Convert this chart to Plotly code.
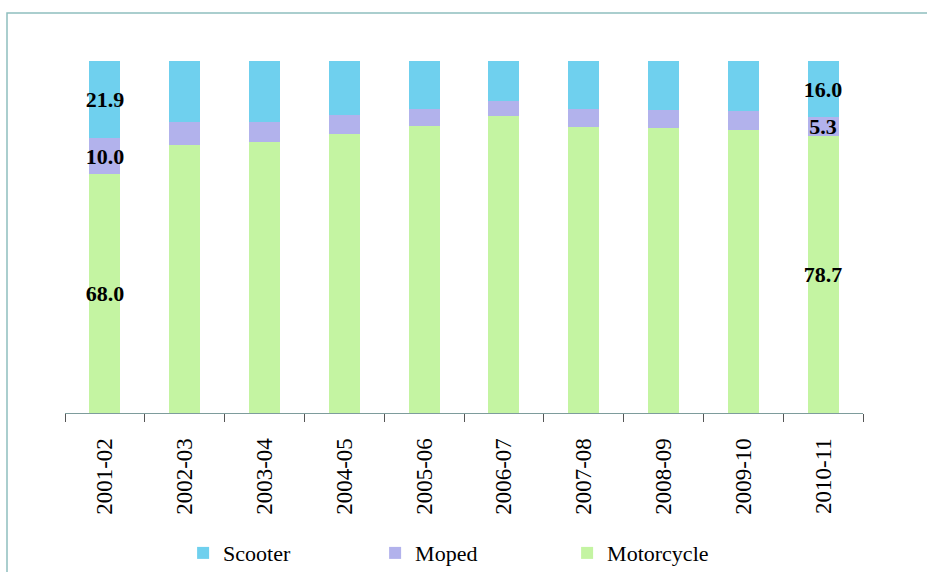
import plotly.graph_objects as go

years = ["2001-02", "2002-03", "2003-04", "2004-05", "2005-06",
         "2006-07", "2007-08", "2008-09", "2009-10", "2010-11"]
motorcycle = [68.0, 76.0, 77.1, 79.3, 81.6, 84.4, 81.2, 80.9, 80.4, 78.7]
moped = [10.0, 6.8, 5.7, 5.4, 4.7, 4.3, 5.1, 5.2, 5.4, 5.3]
scooter = [21.9, 17.2, 17.2, 15.3, 13.7, 11.3, 13.7, 13.9, 14.2, 16.0]
labeled = {"2001-02", "2010-11"}

def lbls(vals):
    return [f"{v:.1f}" if y in labeled else "" for y, v in zip(years, vals)]

serif = "Liberation Serif"
fig = go.Figure()
series = [("Motorcycle", motorcycle, "#C4F4A2"),
          ("Moped", moped, "#B2B2EC"),
          ("Scooter", scooter, "#6FD0EE")]
for name, vals, col in series:
    fig.add_trace(go.Bar(
        x=years, y=vals, name=name, marker=dict(color=col, line=dict(width=0)),
        text=lbls(vals), textposition="inside", insidetextanchor="middle",
        textangle=0, constraintext="none",
        textfont=dict(family=serif, size=22, color="black", weight="bold"),
    ))

fig.update_layout(
    width=927, height=572,
    margin=dict(l=65, r=64, t=61, b=159, autoexpand=False),
    barmode="stack", bargap=0.61,
    plot_bgcolor="white", paper_bgcolor="white",
    uniformtext=dict(minsize=22, mode="show"),
    font=dict(family=serif, size=22, color="black"),
    legend=dict(orientation="h", traceorder="reversed",
                x=0.148, xanchor="left", y=-0.398, yanchor="middle",
                entrywidth=147, entrywidthmode="pixels",
                font=dict(family=serif, size=22), itemwidth=30),
    xaxis=dict(type="category", automargin=False,
               showline=True, linecolor="#7E9C9C", linewidth=1,
               ticks="outside", tickson="boundaries", ticklen=8,
               tickcolor="#555555", tickangle=-90,
               tickfont=dict(family=serif, size=23),
               ticklabelstandoff=15, showgrid=False),
    yaxis=dict(range=[0, 100], visible=False, showgrid=False, automargin=False),
    shapes=[dict(type="rect", xref="paper", yref="paper",
                 x0=(7 - 65) / 798, x1=1.2, y0=-0.6, y1=(413 - 13) / 352,
                 line=dict(color="#8FBFBF", width=1.5), layer="below")],
)

fig.write_html("out.html")
